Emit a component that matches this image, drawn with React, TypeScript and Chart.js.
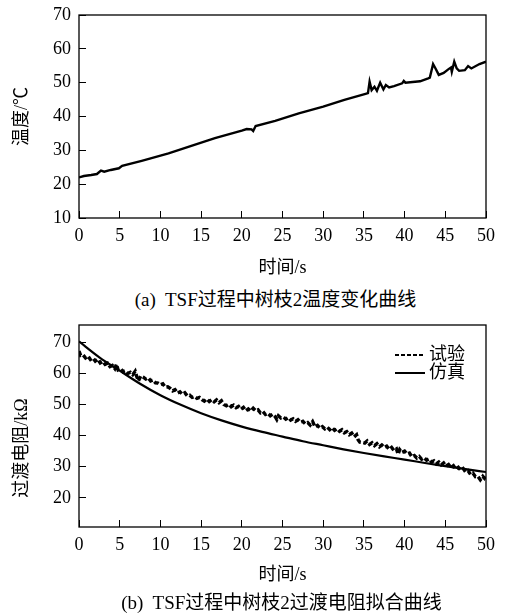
import React, { useEffect, useRef } from 'react';
import { Chart, registerables } from 'chart.js';

Chart.register(...registerables);

// ---------- data ----------
const timeTicks = [0, 5, 10, 15, 20, 25, 30, 35, 40, 45, 50];
const tempTicks = [10, 20, 30, 40, 50, 60, 70];
const resTicks = [20, 30, 40, 50, 60, 70];

const tempTime = [0, 0.6, 1.5, 2.2, 2.7, 3.1, 3.9, 4.9, 5.3, 7.7, 11.0, 13.8, 16.7, 20.0, 20.6, 21.2, 21.4, 21.7, 24.1, 27.0, 30.0, 32.6, 35.2, 35.5, 35.7, 35.95, 36.3, 36.6, 37.0, 37.4, 37.7, 38.1, 38.7, 39.7, 39.9, 40.1, 41.9, 42.9, 43.1, 43.5, 43.8, 44.2, 44.8, 45.4, 45.7, 45.8, 46.1, 46.4, 46.7, 47.4, 47.8, 48.2, 49.2, 50.0];
const tempValue = [22.0, 22.4, 22.7, 23.0, 24.0, 23.7, 24.2, 24.7, 25.4, 26.9, 29.1, 31.3, 33.6, 35.8, 36.3, 36.2, 35.7, 37.2, 38.7, 40.9, 42.9, 44.9, 46.7, 46.9, 50.3, 47.8, 48.8, 47.6, 50.0, 48.0, 49.3, 48.6, 49.0, 49.8, 50.5, 50.0, 50.4, 51.3, 51.5, 55.5, 54.2, 52.3, 52.9, 54.0, 54.5, 53.2, 56.2, 54.2, 53.5, 53.7, 54.9, 54.2, 55.5, 56.2];

const expTime = [0.0, 0.2, 0.5, 0.8, 1.1, 1.4, 1.7, 2.0, 2.3, 2.6, 2.9, 3.2, 3.5, 3.8, 4.1, 4.4, 4.6, 4.8, 5.1, 5.4, 5.7, 6.0, 6.3, 6.6, 6.9, 7.1, 7.3, 7.6, 7.9, 8.2, 8.5, 8.8, 9.1, 9.4, 9.7, 10.0, 10.3, 10.6, 10.9, 11.2, 11.5, 11.8, 12.1, 12.4, 12.7, 13.0, 13.3, 13.6, 13.9, 14.2, 14.5, 14.8, 15.1, 15.4, 15.7, 16.0, 16.3, 16.6, 16.9, 17.2, 17.5, 17.8, 18.1, 18.4, 18.7, 19.0, 19.3, 19.6, 19.9, 20.2, 20.5, 20.8, 21.1, 21.4, 21.7, 22.0, 22.3, 22.6, 22.9, 23.2, 23.5, 23.8, 24.1, 24.3, 24.5, 24.8, 25.1, 25.4, 25.7, 26.0, 26.3, 26.6, 26.9, 27.2, 27.5, 27.8, 28.1, 28.4, 28.7, 29.0, 29.3, 29.6, 29.9, 30.2, 30.5, 30.8, 31.1, 31.4, 31.7, 32.0, 32.3, 32.6, 32.9, 33.2, 33.5, 33.8, 34.1, 34.3, 34.5, 34.8, 35.1, 35.4, 35.7, 36.0, 36.3, 36.6, 36.9, 37.2, 37.5, 37.8, 38.1, 38.4, 38.7, 39.0, 39.2, 39.4, 39.7, 40.0, 40.3, 40.6, 40.9, 41.2, 41.5, 41.8, 42.1, 42.4, 42.7, 43.0, 43.3, 43.6, 43.9, 44.2, 44.5, 44.8, 45.1, 45.4, 45.7, 46.0, 46.3, 46.6, 46.9, 47.2, 47.5, 47.8, 48.1, 48.4, 48.7, 49.0, 49.3, 49.6, 49.8, 50.0];
const expValue = [67.2, 65.8, 66.0, 65.0, 65.6, 64.5, 65.0, 64.0, 64.6, 63.4, 63.9, 62.9, 63.3, 62.2, 62.6, 61.6, 63.0, 61.2, 61.6, 60.6, 60.9, 60.0, 60.4, 59.6, 60.7, 59.0, 57.6, 59.2, 58.8, 58.2, 58.6, 57.6, 57.9, 57.0, 56.9, 56.4, 56.7, 55.6, 55.7, 55.2, 54.4, 54.8, 53.7, 54.1, 53.3, 53.8, 52.8, 53.0, 52.3, 52.6, 52.0, 52.3, 51.6, 51.1, 51.8, 51.0, 51.6, 50.9, 51.5, 50.6, 51.2, 50.0, 49.6, 50.1, 49.3, 49.8, 49.0, 49.4, 48.5, 49.1, 48.0, 48.6, 47.9, 48.8, 48.0, 48.3, 47.3, 47.7, 46.8, 47.2, 46.4, 46.9, 46.1, 45.2, 46.4, 45.7, 46.0, 45.3, 45.8, 45.0, 45.4, 44.6, 45.1, 44.3, 44.6, 43.8, 44.2, 43.4, 44.5, 42.8, 43.3, 42.4, 42.9, 42.2, 42.7, 41.9, 42.6, 41.7, 42.2, 41.4, 41.9, 40.9, 41.3, 40.3, 40.8, 39.6, 40.3, 38.6, 37.9, 37.8, 37.6, 38.3, 37.2, 37.7, 36.8, 37.4, 36.4, 37.0, 36.2, 36.6, 35.6, 36.2, 35.2, 35.7, 34.0, 35.5, 34.6, 35.0, 34.1, 34.4, 33.2, 33.6, 32.8, 33.3, 32.4, 32.9, 32.1, 32.5, 31.5, 31.9, 30.9, 31.5, 30.6, 31.2, 30.2, 30.7, 29.7, 30.3, 29.2, 29.8, 28.9, 29.4, 28.3, 28.7, 27.5, 27.9, 26.8, 26.9, 25.8, 26.9, 26.3, 27.2];

const simTime = [0, 2.5, 5, 7.5, 10, 12.5, 15, 17.5, 20, 22.5, 25, 27.5, 30, 32.5, 35, 37.5, 40, 42.5, 45, 47.5, 50];
const simValue = [70.3, 65.2, 60.9, 56.7, 53.0, 49.9, 47.2, 44.9, 42.9, 41.2, 39.7, 38.2, 36.9, 35.6, 34.4, 33.3, 32.3, 31.2, 30.2, 29.2, 28.3];

const labelExp = '试验';
const labelSim = '仿真';
const xTitle = '时间/s';
const yTitleA = '温度/℃';
const yTitleB = '过渡电阻/kΩ';
const captionA = '(a)  TSF过程中树枝2温度变化曲线';
const captionB = '(b)  TSF过程中树枝2过渡电阻拟合曲线';

// ---------- styling ----------
const SERIF = '"Liberation Serif", "Times New Roman", serif';
const MIXED = '"Liberation Serif", "Noto Sans CJK SC", serif';

Chart.defaults.color = '#000';
Chart.defaults.font.family = SERIF;
Chart.defaults.font.size = 18;

const framePlugin = {
  id: 'frame',
  afterDatasetsDraw(chart: any) {
    const { ctx, chartArea } = chart;
    const { left, top, right, bottom } = chartArea;
    ctx.save();
    ctx.strokeStyle = '#000';
    ctx.lineWidth = 1.3;
    ctx.strokeRect(left, top, right - left, bottom - top);
    ctx.restore();
  },
};

const cornerLegendPlugin = {
  id: 'cornerLegend',
  afterDraw(chart: any, _args: any, opts: any) {
    if (!opts || !opts.display) return;
    const { ctx, chartArea } = chart;
    const x0 = chartArea.right - opts.right;
    chart.data.datasets.forEach((ds: any, i: number) => {
      const y = chartArea.top + opts.top + i * opts.rowGap;
      ctx.save();
      ctx.strokeStyle = '#000';
      ctx.lineWidth = 2;
      ctx.setLineDash(ds.legendDash || []);
      ctx.beginPath();
      ctx.moveTo(x0, y);
      ctx.lineTo(x0 + opts.lineLen, y);
      ctx.stroke();
      ctx.setLineDash([]);
      ctx.fillStyle = '#000';
      ctx.font = `18px ${MIXED}`;
      ctx.textBaseline = 'middle';
      ctx.textAlign = 'left';
      ctx.fillText(ds.label, x0 + opts.lineLen + 4, y);
      ctx.restore();
    });
  },
};

const sideTitlePlugin = {
  id: 'sideTitle',
  afterDraw(chart: any, _args: any, opts: any) {
    if (!opts || !opts.text) return;
    const { ctx } = chart;
    ctx.save();
    ctx.translate(opts.x, opts.y);
    ctx.rotate(-Math.PI / 2);
    ctx.fillStyle = '#000';
    ctx.font = `18px ${MIXED}`;
    ctx.textAlign = 'center';
    ctx.textBaseline = 'middle';
    ctx.fillText(opts.text, 0, 0);
    ctx.restore();
  },
};

function tickSetter(values: number[]) {
  return (scale: any) => {
    scale.ticks = values.map((v) => ({ value: v }));
  };
}

function xScale(height: number, titlePadBottom: number) {
  return {
    type: 'linear',
    position: 'bottom',
    min: 0,
    max: 50,
    afterBuildTicks: tickSetter(timeTicks),
    afterFit: (s: any) => {
      s.height = height;
      s.paddingLeft = 0;
      s.paddingRight = 0;
    },
    grid: { drawOnChartArea: false, drawTicks: true, tickLength: -7, color: '#000', lineWidth: 1 },
    border: { display: false },
    ticks: { padding: 14, font: { family: SERIF, size: 18 }, color: '#000', maxRotation: 0, autoSkip: false },
    title: { display: true, text: xTitle, font: { family: MIXED, size: 18 }, color: '#000', padding: { top: 0, bottom: titlePadBottom } },
  };
}

function yScale(min: number, max: number, ticks: number[], title: string | null) {
  return {
    type: 'linear',
    position: 'left',
    min,
    max,
    afterBuildTicks: tickSetter(ticks),
    afterFit: (s: any) => {
      s.width = 79;
      s.paddingTop = 0;
      s.paddingBottom = 0;
    },
    grid: { drawOnChartArea: false, drawTicks: true, tickLength: -7, color: '#000', lineWidth: 1 },
    border: { display: false },
    ticks: { padding: 15, font: { family: SERIF, size: 18 }, color: '#000', autoSkip: false },
    title: title
      ? { display: true, text: title, font: { family: MIXED, size: 18 }, color: '#000', padding: { top: 11, bottom: 0 } }
      : { display: false },
  };
}

function useFontsRedraw(getChart: () => Chart | null) {
  useEffect(() => {
    let alive = true;
    const fonts: any = (document as any).fonts;
    if (fonts && fonts.load) {
      Promise.all([
        fonts.load('18px "Liberation Serif"', '0123456789'),
        fonts.load('18px "Noto Sans CJK SC"', '时间温度过渡电阻试验仿真'),
      ])
        .then(() => {
          const c = getChart();
          if (alive && c) c.update();
        })
        .catch(() => {});
    }
    return () => {
      alive = false;
    };
  }, []);
}

function TempChart() {
  const ref = useRef<HTMLCanvasElement | null>(null);
  const chartRef = useRef<Chart | null>(null);
  useEffect(() => {
    if (!ref.current) return;
    const chart = new Chart(ref.current, {
      type: 'line',
      data: {
        datasets: [
          {
            label: '温度',
            data: tempTime.map((t, i) => ({ x: t, y: tempValue[i] })),
            borderColor: '#000',
            borderWidth: 2.4,
            pointRadius: 0,
            tension: 0,
            fill: false,
          },
        ],
      },
      options: {
        responsive: false,
        animation: false,
        layout: { padding: { top: 15, right: 19, left: 0, bottom: 0 } },
        plugins: { legend: { display: false }, tooltip: { enabled: false } },
        scales: {
          x: xScale(67, 6),
          y: yScale(10, 70, tempTicks, yTitleA),
        },
      } as any,
      plugins: [framePlugin],
    });
    chartRef.current = chart;
    return () => {
      chart.destroy();
      chartRef.current = null;
    };
  }, []);
  useFontsRedraw(() => chartRef.current);
  return <canvas ref={ref} width={505} height={285} style={{ position: 'absolute', left: 0, top: 0 }} />;
}

function ResChart() {
  const ref = useRef<HTMLCanvasElement | null>(null);
  const chartRef = useRef<Chart | null>(null);
  useEffect(() => {
    if (!ref.current) return;
    const chart = new Chart(ref.current, {
      type: 'line',
      data: {
        datasets: [
          {
            label: labelExp,
            data: expTime.map((t, i) => ({ x: t, y: expValue[i] })),
            borderColor: '#000',
            borderWidth: 3.4,
            borderDash: [5, 2.5],
            legendDash: [4, 2],
            pointRadius: 0,
            tension: 0,
            fill: false,
          },
          {
            label: labelSim,
            data: simTime.map((t, i) => ({ x: t, y: simValue[i] })),
            borderColor: '#000',
            borderWidth: 2.2,
            pointRadius: 0,
            cubicInterpolationMode: 'monotone',
            fill: false,
          },
        ] as any,
      },
      options: {
        responsive: false,
        animation: false,
        layout: { padding: { top: 15, right: 19, left: 0, bottom: 0 } },
        plugins: {
          legend: { display: false },
          tooltip: { enabled: false },
          cornerLegend: { display: true, right: 91, top: 30, rowGap: 18, lineLen: 30 },
          sideTitle: { text: yTitleB, x: 22, y: 138 },
        },
        scales: {
          x: xScale(68, 9),
          y: yScale(10.6, 75.6, resTicks, null),
        },
      } as any,
      plugins: [framePlugin, cornerLegendPlugin, sideTitlePlugin],
    });
    chartRef.current = chart;
    return () => {
      chart.destroy();
      chartRef.current = null;
    };
  }, []);
  useFontsRedraw(() => chartRef.current);
  return <canvas ref={ref} width={505} height={285} style={{ position: 'absolute', left: 0, top: 310 }} />;
}

const captionStyle: React.CSSProperties = {
  position: 'absolute',
  width: 420,
  textAlign: 'center',
  fontFamily: MIXED,
  fontSize: 19,
  lineHeight: '22px',
  whiteSpace: 'pre',
  color: '#000',
};

export default function App() {
  return (
    <div style={{ position: 'absolute', left: 0, top: 0, width: 505, height: 615, background: '#fff', overflow: 'hidden' }}>
      <TempChart />
      <div style={{ ...captionStyle, left: 275.5 - 210, top: 289 }}>{captionA}</div>
      <ResChart />
      <div style={{ ...captionStyle, left: 281.5 - 210, top: 592 }}>{captionB}</div>
    </div>
  );
}
